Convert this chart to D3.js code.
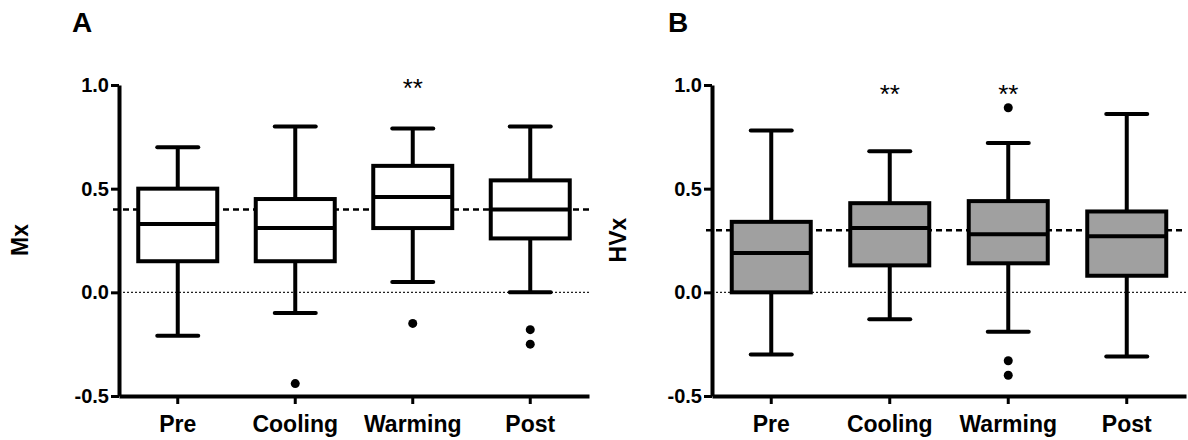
<!DOCTYPE html>
<html>
<head>
<meta charset="utf-8">
<script src="https://cdn.jsdelivr.net/npm/d3@7"></script>
<style>
  body { margin: 0; background: #fff; }
  svg text { font-family: "Liberation Sans", Arial, sans-serif; }
</style>
</head>
<body>
<svg id="svg" width="1188" height="440"></svg>
<script>
// categories and values
const categories = ["Pre", "Cooling", "Warming", "Post"];
const yTicks = [-0.5, 0.0, 0.5, 1.0];

// [whisker low, q1, median, q3, whisker high]
const mxBoxes = [
  [-0.21, 0.15, 0.33, 0.50, 0.70],
  [-0.10, 0.15, 0.31, 0.45, 0.80],
  [0.05, 0.31, 0.46, 0.61, 0.79],
  [0.00, 0.26, 0.40, 0.54, 0.80]
];
const mxOutliers = [[], [-0.44], [-0.15], [-0.18, -0.25]];
const mxSig = ["", "", "**", ""];
const mxRef = 0.40;

const hvxBoxes = [
  [-0.30, 0.00, 0.19, 0.34, 0.78],
  [-0.13, 0.13, 0.31, 0.43, 0.68],
  [-0.19, 0.14, 0.28, 0.44, 0.72],
  [-0.31, 0.08, 0.27, 0.39, 0.86]
];
const hvxOutliers = [[], [], [0.89, -0.33, -0.40], []];
const hvxSig = ["", "**", "**", ""];
const hvxRef = 0.30;

const svg = d3.select("#svg");

function drawPanel(opt) {
  const g = svg.append("g");
  const x = d3.scaleBand().domain(categories).range([opt.left, opt.right]);
  const y = d3.scaleLinear().domain([-0.5, 1.0]).range([396, 85]);
  const boxW = 79, capW = 41, lw = 4;

  // reference lines (behind boxes)
  g.append("line")
    .attr("x1", opt.left - 6).attr("x2", opt.right)
    .attr("y1", y(opt.ref)).attr("y2", y(opt.ref))
    .attr("stroke", "#000").attr("stroke-width", 2.5)
    .attr("stroke-dasharray", "6,4");
  g.append("line")
    .attr("x1", opt.left).attr("x2", opt.right)
    .attr("y1", y(0)).attr("y2", y(0))
    .attr("stroke", "#222").attr("stroke-width", 1.3)
    .attr("stroke-dasharray", "2,2");

  categories.forEach((c, i) => {
    const d = opt.boxes[i];
    const cx = x(c) + x.bandwidth() / 2;
    // whisker stems
    g.append("line").attr("x1", cx).attr("x2", cx)
      .attr("y1", y(d[0])).attr("y2", y(d[4]))
      .attr("stroke", "#000").attr("stroke-width", lw);
    // caps
    [d[0], d[4]].forEach(v => {
      g.append("line").attr("x1", cx - capW / 2).attr("x2", cx + capW / 2)
        .attr("y1", y(v)).attr("y2", y(v))
        .attr("stroke", "#000").attr("stroke-width", lw)
        .attr("stroke-linecap", "round");
    });
    // box
    g.append("rect")
      .attr("x", cx - boxW / 2).attr("width", boxW)
      .attr("y", y(d[3])).attr("height", y(d[1]) - y(d[3]))
      .attr("fill", opt.fill).attr("stroke", "#000").attr("stroke-width", lw);
    // median
    g.append("line").attr("x1", cx - boxW / 2).attr("x2", cx + boxW / 2)
      .attr("y1", y(d[2])).attr("y2", y(d[2]))
      .attr("stroke", "#000").attr("stroke-width", lw);
    // outliers
    opt.outliers[i].forEach(v => {
      g.append("circle").attr("cx", cx).attr("cy", y(v)).attr("r", 4.5).attr("fill", "#000");
    });
    // significance
    if (opt.sig[i]) {
      g.append("text").attr("x", cx).attr("y", opt.sigY)
        .attr("text-anchor", "middle").attr("font-size", 26)
        .text(opt.sig[i]);
    }
  });

  // axes
  const fmt = v => d3.format(".1f")(v).replace("\u2212", "-");
  const ya = g.append("g").attr("transform", `translate(${opt.left},0)`)
    .call(d3.axisLeft(y).tickValues(yTicks).tickFormat(fmt).tickSize(8).tickSizeOuter(0).tickPadding(2));
  ya.select(".domain").attr("stroke-width", 4);
  ya.selectAll(".tick line").attr("stroke-width", 3);
  ya.selectAll(".tick text").attr("font-size", 20).attr("font-weight", "bold")
    .attr("font-family", "Liberation Sans, Arial, sans-serif").attr("fill", "#000");

  const xa = g.append("g").attr("transform", "translate(0,396)")
    .call(d3.axisBottom(x).tickSize(8).tickSizeOuter(0).tickPadding(12));
  xa.select(".domain").attr("stroke-width", 4);
  xa.selectAll(".tick line").attr("stroke-width", 3);
  xa.selectAll(".tick text").attr("font-size", 23).attr("font-weight", "bold")
    .attr("font-family", "Liberation Sans, Arial, sans-serif").attr("fill", "#000");

  // axis title
  g.append("text")
    .attr("transform", `translate(${opt.titleX},240) rotate(-90)`)
    .attr("text-anchor", "middle").attr("font-size", 23).attr("font-weight", "bold")
    .text(opt.title);

  // panel letter
  g.append("text").attr("x", opt.letterX).attr("y", 32)
    .attr("font-size", 28).attr("font-weight", "bold").text(opt.letter);
}

drawPanel({left: 119, right: 589, boxes: mxBoxes, outliers: mxOutliers, sig: mxSig,
  sigY: 97, ref: mxRef, fill: "#fff", title: "Mx", titleX: 28, letter: "A", letterX: 72});
drawPanel({left: 712, right: 1186, boxes: hvxBoxes, outliers: hvxOutliers, sig: hvxSig,
  sigY: 103, ref: hvxRef, fill: "#a0a0a0", title: "HVx", titleX: 626, letter: "B", letterX: 668});
</script>
</body>
</html>
